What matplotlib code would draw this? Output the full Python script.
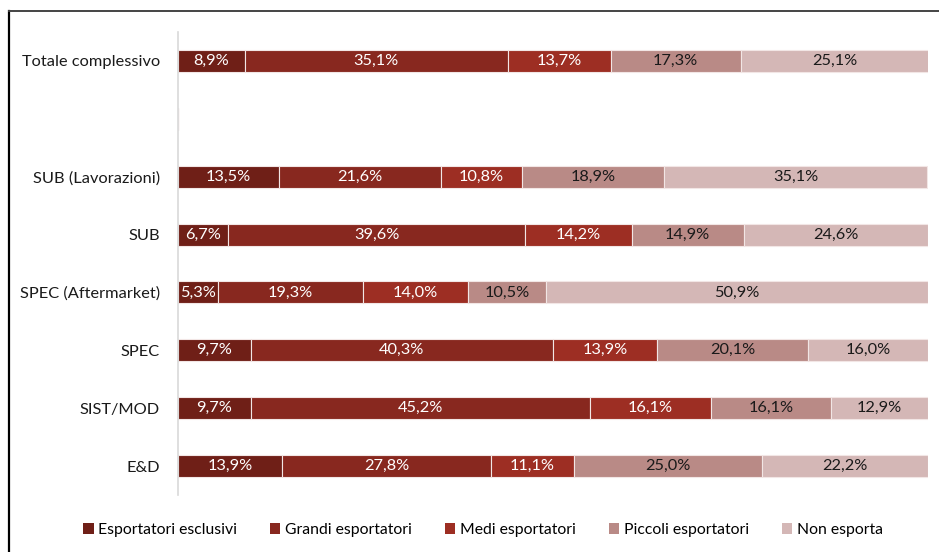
import numpy as np
import matplotlib.pyplot as plt
from matplotlib.lines import Line2D
from matplotlib.patches import Patch

plt.rcParams['font.family'] = ['Lato', 'DejaVu Sans']

categories = ["E&D", "SIST/MOD", "SPEC", "SPEC (Aftermarket)", "SUB",
              "SUB (Lavorazioni)", "", "Totale complessivo"]
series = ["Esportatori esclusivi", "Grandi esportatori", "Medi esportatori",
          "Piccoli esportatori", "Non esporta"]

esclusivi = [13.9, 9.7, 9.7, 5.3, 6.7, 13.5, np.nan, 8.9]
grandi = [27.8, 45.2, 40.3, 19.3, 39.6, 21.6, np.nan, 35.1]
medi = [11.1, 16.1, 13.9, 14.0, 14.2, 10.8, np.nan, 13.7]
piccoli = [25.0, 16.1, 20.1, 10.5, 14.9, 18.9, np.nan, 17.3]
non_esporta = [22.2, 12.9, 16.0, 50.9, 24.6, 35.1, np.nan, 25.1]

colors = ["#6f1f17", "#88281f", "#9d2e23", "#b98a86", "#d4b7b6"]
text_colors = ["white", "white", "white", "#1a1a1a", "#1a1a1a"]

fig = plt.figure(figsize=(9.39, 5.52), dpi=100)
ax = fig.add_axes([178 / 939, 1 - 495 / 552, (928 - 178) / 939, (495 - 32) / 552])

y = np.arange(len(categories))
left = np.zeros(len(categories))
for vals, name, c, tc in zip([esclusivi, grandi, medi, piccoli, non_esporta],
                             series, colors, text_colors):
    vals = np.array(vals, dtype=float)
    ax.barh(y, np.nan_to_num(vals), left=left, height=0.38, color=c,
            edgecolor="#f2e6e5", linewidth=0.8, label=name)
    for yi, l, v in zip(y, left, vals):
        if np.isnan(v):
            continue
        ax.text(l + v / 2, yi, f"{v:.1f}%".replace(".", ","), ha="center",
                va="center", color=tc, fontsize=11.8)
    left += np.nan_to_num(vals)

ax.set_xlim(0, 100)
ax.set_ylim(-0.5, 7.5)
ax.set_yticks(y)
ax.set_yticklabels(categories, fontsize=11.8, color="#1a1a1a")
ax.tick_params(axis="y", length=0, pad=13)
ax.set_xticks([])
for s in ["top", "right", "bottom"]:
    ax.spines[s].set_visible(False)
ax.spines["left"].set_color("#d9d9d9")
ax.spines["left"].set_linewidth(1.2)

handles = [Patch(facecolor=c, edgecolor="none") for c in colors]
fig.legend(handles, series, loc="center", bbox_to_anchor=(483 / 939, 1 - 530 / 552),
           ncol=5, frameon=False, fontsize=11.3, handlelength=0.65, handleheight=0.65,
           handletextpad=0.3, columnspacing=2.1)

# outer frame lines
fig.add_artist(Line2D([9 / 939, 9 / 939], [0, 1 - 11 / 552], color="black",
                      linewidth=1.6, transform=fig.transFigure))
fig.add_artist(Line2D([9 / 939, 1], [1 - 11 / 552, 1 - 11 / 552], color="#444444",
                      linewidth=1.4, transform=fig.transFigure))

fig.savefig("out.png", dpi=100)
